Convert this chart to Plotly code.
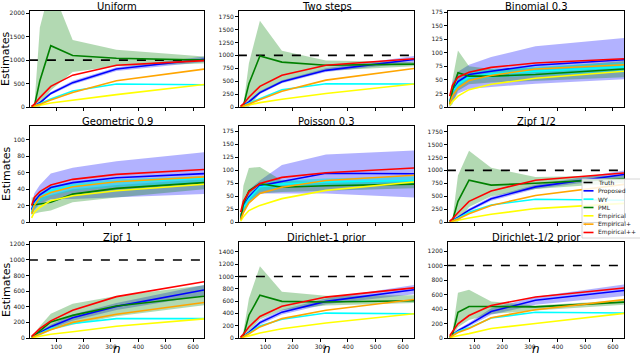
import plotly.graph_objects as go
from plotly.subplots import make_subplots

N = [10, 20, 40, 80, 160, 320, 640]
TRUTH = 1000

TITLES = ["Uniform", "Two steps", "Binomial 0.3", "Geometric 0.9", "Poisson 0.3",
          "Zipf 1/2", "Zipf 1", "Dirichlet-1 prior", "Dirichlet-1/2 prior"]
SHOW_TRUTH = [True, True, False, False, False, True, True, True, True]
Y_TICK_STEP = [500, 250, 25, 20, 25, 250, 200, 200, 200]
Y_MAX = [2050, 1860, 177, 117, 185, 1860, 1230, 1560, 1325]

uniform = dict(
    proposed=[10, 30, 90, 290, 520, 810, 1020],
    proposed_lo=[5, 20, 70, 260, 480, 770, 960],
    proposed_hi=[15, 40, 110, 320, 560, 850, 1080],
    wy=[8, 25, 70, 170, 340, 490, 475],
    pml=[10, 20, 560, 1310, 1100, 1040, 1000],
    pml_lo=[0, 0, 0, 360, 750, 870, 930],
    pml_hi=[15, 40, 1700, 2600, 1430, 1220, 1080],
    emp=[5, 12, 40, 85, 150, 265, 480],
    emp_p=[8, 20, 60, 150, 310, 560, 810],
    emp_pp=[15, 60, 200, 440, 680, 890, 990],
)
two_steps = dict(
    proposed=[10, 30, 100, 280, 490, 710, 920],
    proposed_lo=[5, 20, 80, 250, 460, 680, 860],
    proposed_hi=[15, 40, 120, 310, 520, 750, 990],
    wy=[8, 25, 75, 165, 335, 450, 445],
    pml=[10, 20, 450, 990, 870, 810, 830],
    pml_lo=[0, 0, 0, 260, 485, 700, 790],
    pml_hi=[15, 40, 850, 1670, 1090, 900, 870],
    emp=[5, 12, 40, 85, 150, 260, 445],
    emp_p=[8, 20, 60, 145, 305, 520, 745],
    emp_pp=[15, 60, 190, 400, 615, 810, 935],
)
binomial = dict(
    proposed=[8, 28, 47, 60, 66, 77, 87],
    proposed_lo=[0, 10, 25, 33, 37, 43, 51],
    proposed_hi=[15, 45, 65, 78, 92, 112, 127],
    wy=[8, 28, 42, 55, 61, 66, 74],
    wy_lo=[4, 20, 35, 48, 54, 58, 64],
    wy_hi=[12, 35, 50, 63, 69, 74, 82],
    pml=[5, 30, 63, 57, 57, 60, 70],
    pml_lo=[0, 5, 30, 42, 45, 48, 55],
    pml_hi=[15, 50, 104, 75, 70, 72, 85],
    emp=[3, 10, 20, 32, 42, 53, 66],
    emp_p=[6, 20, 35, 49, 58, 70, 78],
    emp_pp=[20, 40, 55, 64, 73, 81, 89],
)
geometric = dict(
    proposed=[15, 25, 33, 42, 48, 54, 59],
    proposed_lo=[8, 15, 22, 28, 28, 30, 34],
    proposed_hi=[22, 35, 45, 59, 66, 74, 85],
    wy=[12, 22, 30, 38, 44, 49, 53],
    wy_lo=[8, 16, 24, 32, 38, 43, 47],
    wy_hi=[16, 28, 36, 44, 48, 52, 56],
    pml=[21, 21, 22, 24, 34, 41, 48],
    pml_lo=[10, 10, 12, 14, 24, 30, 40],
    pml_hi=[30, 30, 30, 33, 40, 45, 52],
    emp=[5, 12, 18, 26, 32, 38, 46],
    emp_p=[10, 20, 30, 36, 43, 49, 55],
    emp_pp=[20, 30, 37, 45, 52, 58, 64],
)
poisson = dict(
    proposed=[10, 30, 48, 70, 78, 94, 93],
    proposed_lo=[5, 18, 35, 55, 55, 55, 47],
    proposed_hi=[15, 42, 62, 80, 110, 130, 138],
    wy=[8, 28, 45, 68, 73, 77, 80],
    wy_lo=[4, 20, 38, 60, 66, 70, 72],
    wy_hi=[12, 36, 52, 76, 80, 84, 88],
    pml=[5, 35, 60, 74, 67, 70, 73],
    pml_lo=[0, 15, 40, 55, 58, 60, 65],
    pml_hi=[15, 70, 104, 106, 80, 76, 80],
    emp=[2, 10, 22, 32, 45, 61, 77],
    emp_p=[5, 18, 37, 55, 67, 80, 90],
    emp_pp=[19, 40, 58, 74, 86, 95, 104],
)
zipf_half = dict(
    proposed=[10, 30, 90, 230, 450, 680, 920],
    proposed_lo=[5, 20, 70, 200, 410, 640, 860],
    proposed_hi=[15, 40, 110, 260, 490, 720, 1000],
    wy=[8, 25, 75, 190, 330, 440, 420],
    pml=[10, 20, 400, 810, 715, 750, 840],
    pml_lo=[0, 0, 0, 290, 500, 640, 760],
    pml_hi=[15, 50, 900, 1380, 1050, 870, 900],
    emp=[5, 12, 35, 78, 150, 260, 360],
    emp_p=[8, 20, 60, 160, 320, 515, 730],
    emp_pp=[15, 60, 180, 400, 600, 810, 950],
)
zipf_one = dict(
    proposed=[10, 30, 70, 145, 260, 405, 615],
    proposed_lo=[5, 20, 55, 120, 220, 360, 545],
    proposed_hi=[15, 40, 85, 170, 300, 450, 680],
    wy=[8, 25, 60, 120, 185, 248, 248],
    pml=[10, 30, 90, 205, 290, 410, 535],
    pml_lo=[0, 5, 30, 100, 170, 280, 420],
    pml_hi=[25, 60, 150, 312, 440, 538, 675],
    emp=[4, 10, 25, 47, 80, 150, 245],
    emp_p=[8, 20, 50, 105, 200, 305, 455],
    emp_pp=[20, 50, 120, 220, 355, 530, 720],
)
dirichlet_one = dict(
    proposed=[10, 30, 90, 250, 420, 595, 785],
    proposed_lo=[5, 20, 70, 215, 380, 550, 710],
    proposed_hi=[15, 40, 110, 285, 460, 640, 860],
    wy=[8, 25, 80, 195, 305, 405, 395],
    pml=[10, 30, 370, 695, 595, 585, 605],
    pml_lo=[0, 0, 100, 300, 450, 530, 570],
    pml_hi=[20, 100, 640, 1165, 750, 685, 695],
    emp=[5, 12, 35, 80, 150, 245, 395],
    emp_p=[8, 20, 70, 180, 315, 450, 625],
    emp_pp=[15, 60, 180, 350, 515, 665, 815],
)
dirichlet_half = dict(
    proposed=[10, 40, 100, 185, 365, 520, 655],
    proposed_lo=[5, 30, 80, 160, 320, 460, 580],
    proposed_hi=[15, 50, 120, 210, 410, 570, 740],
    wy=[10, 35, 90, 140, 275, 355, 345],
    pml=[10, 40, 355, 435, 435, 430, 495],
    pml_lo=[0, 10, 150, 250, 330, 380, 460],
    pml_hi=[20, 80, 625, 665, 505, 450, 520],
    emp=[5, 15, 30, 60, 130, 200, 340],
    emp_p=[10, 30, 75, 130, 280, 390, 530],
    emp_pp=[30, 90, 195, 310, 450, 565, 690],
)

PANELS = [uniform, two_steps, binomial, geometric, poisson,
          zipf_half, zipf_one, dirichlet_one, dirichlet_half]

LINES = [
    ("proposed", "Proposed", "blue"),
    ("wy", "WY", "cyan"),
    ("pml", "PML", "green"),
    ("emp", "Empirical", "yellow"),
    ("emp_p", "Empirical+", "orange"),
    ("emp_pp", "Empirical++", "red"),
]
BANDS = [
    ("proposed", "rgba(0,0,255,0.3)"),
    ("pml", "rgba(0,128,0,0.3)"),
    ("wy", "rgba(0,230,230,0.55)"),
]

# pixel layout of the 3x3 grid (640x357 page)
W, H = 640, 357
COL_PX = [(30, 204), (239, 414), (448, 624)]
ROW_PX = [(11, 107), (126, 222), (242, 338)]
FONT = "DejaVu Sans"

fig = make_subplots(rows=3, cols=3)

for i, panel in enumerate(PANELS):
    r, c = i // 3 + 1, i % 3 + 1
    for key, color in BANDS:
        if key + "_lo" not in panel:
            continue
        fig.add_trace(go.Scatter(x=N, y=panel[key + "_lo"], mode="lines", line=dict(width=0),
                                 hoverinfo="skip", showlegend=False), row=r, col=c)
        fig.add_trace(go.Scatter(x=N, y=panel[key + "_hi"], mode="lines", line=dict(width=0),
                                 fill="tonexty", fillcolor=color, hoverinfo="skip",
                                 showlegend=False), row=r, col=c)
    if SHOW_TRUTH[i]:
        fig.add_trace(go.Scatter(x=[0, 640], y=[TRUTH, TRUTH], mode="lines",
                                 line=dict(color="black", width=1.6, dash="dash"),
                                 showlegend=False), row=r, col=c)
    for key, name, color in LINES:
        fig.add_trace(go.Scatter(x=N, y=panel[key], mode="lines", name=name,
                                 line=dict(color=color, width=1.6), showlegend=False),
                      row=r, col=c)

    x0, x1 = COL_PX[c - 1]
    y0, y1 = ROW_PX[r - 1]
    axis_common = dict(showline=True, mirror=True, linecolor="black", linewidth=0.8,
                       showgrid=False, zeroline=False, ticks="outside", ticklen=3,
                       tickwidth=0.8, tickcolor="black", automargin=False,
                       tickfont=dict(family=FONT, size=6, color="#222"))
    fig.update_xaxes(domain=[x0 / W, x1 / W], range=[4, 640], tickvals=[100, 200, 300, 400, 500, 600],
                     showticklabels=(r == 3), row=r, col=c, **axis_common)
    fig.update_yaxes(domain=[1 - y1 / H, 1 - y0 / H], range=[0, Y_MAX[i]], dtick=Y_TICK_STEP[i],
                     row=r, col=c, **axis_common)
    # subplot title sits just above the frame (top row touches the page edge)
    fig.add_annotation(text=TITLES[i], xref="paper", yref="paper", x=(x0 + x1) / 2 / W,
                       y=1 - (y0 - 11) / H, xanchor="center", yanchor="top", showarrow=False,
                       borderpad=0, font=dict(family=FONT, size=10, color="black"))
    if c == 1:
        fig.add_annotation(text="Estimates", xref="paper", yref="paper", x=6 / W,
                           y=1 - (y0 + y1) / 2 / H, textangle=-90, xanchor="center",
                           yanchor="middle", showarrow=False,
                           font=dict(family=FONT, size=11, color="black"))
    if r == 3:
        fig.add_annotation(text="<i>n</i>", xref="paper", yref="paper", x=(x0 + x1) / 2 / W,
                           y=0, xanchor="center", yanchor="bottom", showarrow=False,
                           borderpad=0, font=dict(family=FONT, size=12, color="black"))

# hand-made compact legend inside the Zipf 1/2 panel
LEGEND_ITEMS = [("Truth", "black", "dash")] + [(name, color, "solid") for _, name, color in LINES]
lx0, ly0, ly1 = 582, 179, 238
fig.add_shape(type="rect", xref="paper", yref="paper", x0=lx0 / W, x1=1.02,
              y0=1 - ly1 / H, y1=1 - ly0 / H, fillcolor="rgba(255,255,255,0.85)",
              line=dict(color="#cccccc", width=0.8), layer="above")
for k, (label, color, dash) in enumerate(LEGEND_ITEMS):
    yy = 1 - (182.5 + 8.33 * k) / H
    fig.add_shape(type="line", xref="paper", yref="paper", x0=583.5 / W, x1=593.5 / W, y0=yy, y1=yy,
                  line=dict(color=color, width=1.6, dash=dash), layer="above")
    fig.add_annotation(text=label, xref="paper", yref="paper", x=596 / W, y=yy, xanchor="left",
                       yanchor="middle", showarrow=False,
                       font=dict(family=FONT, size=6, color="#222"))

fig.update_layout(width=W, height=H, margin=dict(l=0, r=0, t=0, b=0, autoexpand=False),
                  plot_bgcolor="white", paper_bgcolor="white", showlegend=False,
                  font=dict(family=FONT))
# the browser's default 8px body margin would push the figure off the window
fig.write_html("out.html", config={"displayModeBar": False},
               post_script="document.body.style.margin='0';")
